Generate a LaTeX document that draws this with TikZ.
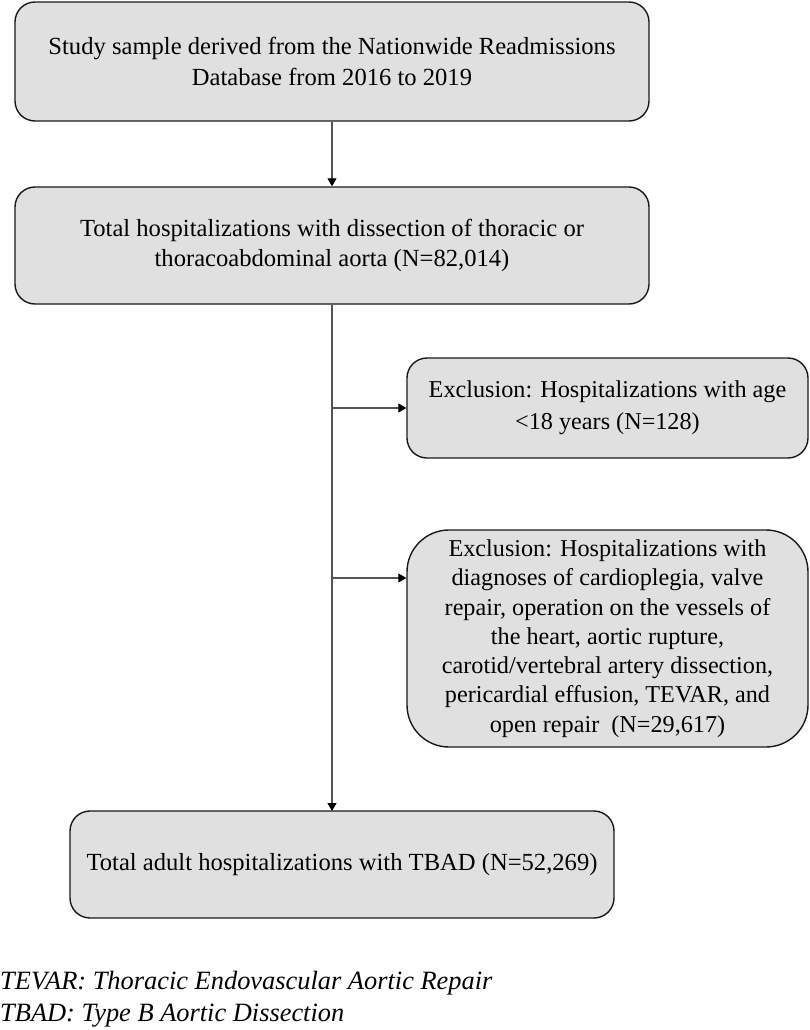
\documentclass[tikz,border=0pt]{standalone}
\usepackage{fontspec}
\setmainfont{Liberation Serif}
\usetikzlibrary{arrows.meta}
\definecolor{boxfill}{HTML}{E0E0E0}
\definecolor{boxline}{HTML}{1A1A1A}
\definecolor{conn}{HTML}{555555}
\begin{document}
\begin{tikzpicture}[x=1pt,y=-1pt,
  flowbox/.style={draw=boxline, line width=1.4pt, fill=boxfill, rounded corners=20pt,
    align=center, inner sep=0pt, font=\fontsize{24.6}{30.5}\selectfont},
  conn/.style={draw=conn, line width=1.1pt, -{Triangle[length=8pt,width=9pt,fill=black,color=black]}},
  line/.style={draw=conn, line width=1.1pt}]
\useasboundingbox (0,0) rectangle (810,1030);
\fill[white] (0,0) rectangle (810,1030);
\node[flowbox, minimum width=634pt, minimum height=119pt] (b1) at (332,61.5)
  {Study sample derived from the Nationwide Readmissions\\Database from 2016 to 2019};
\node[flowbox, minimum width=634pt, minimum height=117pt] (b2) at (332,245.5)
  {Total hospitalizations with dissection of thoracic or\\thoracoabdominal aorta (N=82,014)};
\node[flowbox, minimum width=401pt, minimum height=100pt, font=\fontsize{24.2}{32}\selectfont] (b3) at (607.5,408)
  {Exclusion: Hospitalizations with age\\<18 years (N=128)};
\node[flowbox, rounded corners=42pt, minimum width=401pt, minimum height=217pt, font=\fontsize{24.2}{29.3}\selectfont] (b5) at (607.5,638.5)
  {Exclusion: Hospitalizations with\\diagnoses of cardioplegia, valve\\repair, operation on the vessels of\\the heart, aortic rupture,\\carotid/vertebral artery dissection,\\pericardial effusion, TEVAR, and\\open repair\ \ (N=29,617)};
\node[flowbox, minimum width=544pt, minimum height=107pt] (b4) at (342,864.5)
  {Total adult hospitalizations with TBAD (N=52,269)};
\coordinate (v1) at (332,408);
\coordinate (v2) at (332,578);
\coordinate (bot) at (332,811);
\draw[conn] (b1.south) -- (b2.north);
\draw[conn] (b2.south) -- (bot);
\draw[conn] (v1) -- (b3.west);
\draw[conn] (v2) -- (v2 -| b5.west);
\node[anchor=west, align=left, inner sep=0pt, font=\fontsize{26.4}{32}\selectfont\itshape] (foot) at (0,999)
  {TEVAR: Thoracic Endovascular Aortic Repair\\TBAD: Type B Aortic Dissection};
\end{tikzpicture}
\end{document}
